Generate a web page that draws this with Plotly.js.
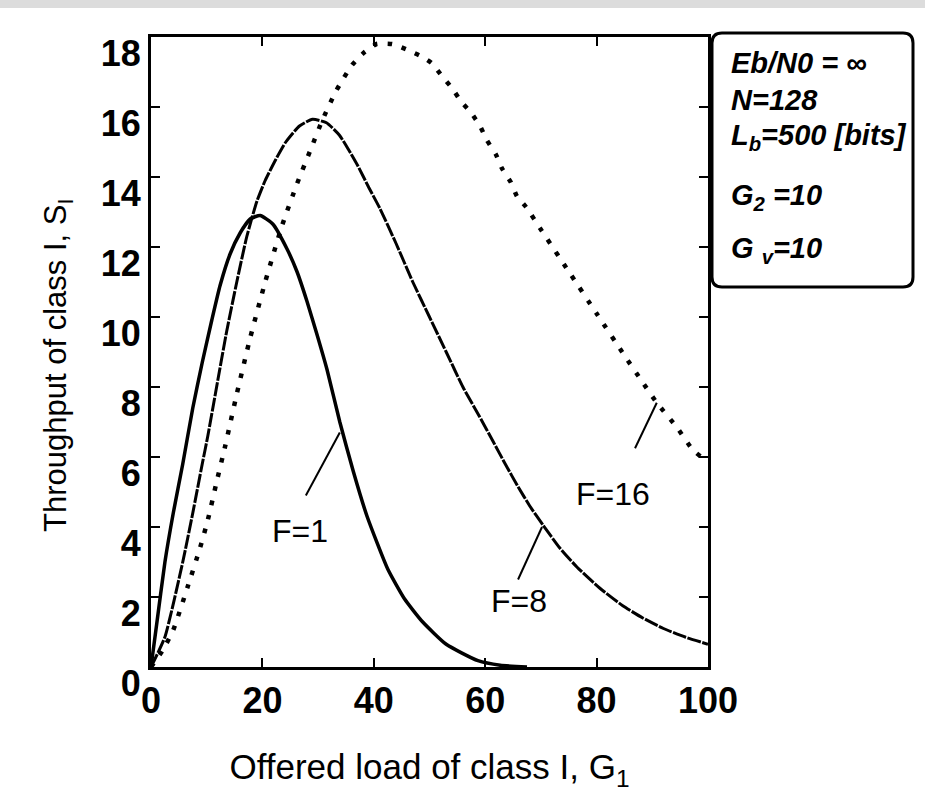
<!DOCTYPE html>
<html>
<head>
<meta charset="utf-8">
<script src="https://cdn.plot.ly/plotly-3.0.1.min.js"></script>
<style>html,body{margin:0;padding:0;background:#fff;}#chart{width:925px;height:796px;}</style>
</head>
<body>
<div id="chart"></div>
<script>
// Offered load G and throughput S for each curve
const G_F1 = [0, 1, 2.5, 4, 5.7, 7.5, 9.2, 10.9, 12.4, 14.2, 16, 17.8, 19.6, 21.9, 24.4, 26.2, 28, 29.8, 31.6, 33.9, 36.3, 38.8, 42.5, 45.5, 48.7, 53, 58.7, 62.7, 67.5];
const S_F1 = [0, 1.2, 3.0, 4.4, 5.8, 7.4, 8.7, 9.9, 10.9, 11.8, 12.4, 12.8, 12.9, 12.65, 11.95, 11.3, 10.45, 9.5, 8.5, 7.0, 5.6, 4.3, 2.8, 1.95, 1.3, 0.65, 0.18, 0.05, 0];

const G_F8 = [0, 2.5, 5.7, 7.5, 9.2, 10.2, 12, 13.6, 15.4, 17.2, 19, 20.5, 22.4, 24.2, 26.6, 29, 31.5, 33.8, 35.4, 37.2, 39.1, 41.1, 44, 47, 50, 53, 56, 59, 61.4, 63.6, 65.9, 68, 70.4, 73.4, 76.5, 80.6, 84.7, 88.3, 92, 96, 100];
const S_F8 = [0, 0.86, 3.0, 4.4, 5.8, 6.6, 8.2, 9.6, 11.0, 12.3, 13.3, 13.9, 14.5, 15.0, 15.45, 15.65, 15.55, 15.2, 14.8, 14.3, 13.7, 13.1, 12.1, 11.0, 10.0, 9.0, 8.0, 7.15, 6.45, 5.8, 5.15, 4.6, 4.05, 3.4, 2.85, 2.25, 1.75, 1.4, 1.1, 0.85, 0.65];

const G_F16 = [0, 2, 4, 6.6, 8.8, 10.2, 11.8, 13.3, 15.4, 17.8, 20.5, 23.5, 26.2, 28.7, 30.7, 33.2, 36.1, 38.2, 40.5, 43.3, 45.8, 48.5, 50.4, 52.4, 54, 55.7, 57.4, 59.1, 60.3, 61.9, 63, 64.6, 65.7, 67.3, 70, 75, 80, 85, 88.2, 90.8, 94.4, 97.3, 100];
const S_F16 = [0, 0.45, 1.06, 2.3, 3.4, 4.2, 5.3, 6.3, 7.8, 9.4, 11.0, 12.6, 13.8, 14.8, 15.6, 16.45, 17.2, 17.55, 17.8, 17.8, 17.65, 17.45, 17.25, 16.85, 16.55, 16.15, 15.85, 15.45, 15.05, 14.65, 14.25, 13.85, 13.45, 13.15, 12.5, 11.3, 10.1, 8.9, 8.15, 7.55, 6.85, 6.2, 5.85];

const curveLabels = ["F=1", "F=8", "F=16"];
const infoLines = ["Eb/N0 = ∞", "N=128", "L<sub>b</sub>=500 [bits]", "G<sub>2</sub> =10", "G <sub>v</sub>=10"];
const xTicks = [0, 20, 40, 60, 80, 100];
const yTicks = [0, 2, 4, 6, 8, 10, 12, 14, 16, 18];
const xTitle = 'Offered load of class I, G<sub>1</sub>';
const yTitle = 'Throughput of class I, S<sub>I</sub>';

// label positions (data coords) and leader lines
const labelPos = [[26.8, 3.9], [66.1, 1.9], [82.9, 4.95]];
const leaders = [[27.8, 4.9, 33.9, 6.7], [65.9, 2.5, 70.2, 4.0], [86.9, 6.25, 90.8, 7.55]];

const traces = [
  {x: G_F1, y: S_F1, mode: 'lines', line: {color: '#000', width: 3.5, shape: 'spline', smoothing: 0.5}},
  {x: G_F8, y: S_F8, mode: 'lines', line: {color: '#000', width: 3, shape: 'spline', smoothing: 0.5, dash: '14px,1.5px'}},
  {x: G_F16, y: S_F16, mode: 'lines', line: {color: '#000', width: 4.5, shape: 'spline', smoothing: 0.5, dash: '4.5px,10px'}}
];

const F = 'Liberation Sans, Arial, sans-serif';
const px = v => (v - 151) / 557, py = v => (667 - v) / 630;
const annotations = [];
curveLabels.forEach((t, i) => {
  annotations.push({x: labelPos[i][0], y: labelPos[i][1], xref: 'x', yref: 'y', text: t, showarrow: false,
    font: {family: F, size: 32, color: '#000'}});
});
const infoY = [63, 100, 137, 197, 250];
infoLines.forEach((t, i) => {
  annotations.push({x: px(729), y: py(infoY[i]), xref: 'paper', yref: 'paper', text: t,
    showarrow: false, xanchor: 'left', yanchor: 'middle',
    font: {family: F, size: 29, color: '#000', weight: 700, style: 'italic'}});
});
// y-axis title
annotations.push({x: px(58), y: py(366), xref: 'paper', yref: 'paper', text: yTitle, textangle: -90,
  showarrow: false, xanchor: 'center', yanchor: 'middle', font: {family: F, size: 31, color: '#000'}});

const shapes = [];
leaders.forEach(l => shapes.push({type: 'line', xref: 'x', yref: 'y', x0: l[0], y0: l[1], x1: l[2], y1: l[3], line: {color: '#000', width: 2}}));
// rounded info box
const bx0 = 712, bx1 = 913, by0 = 33, by1 = 287, r = 10;
shapes.push({type: 'path', xref: 'paper', yref: 'paper', line: {color: '#000', width: 3},
  path: `M ${px(bx0 + r)} ${py(by0)} L ${px(bx1 - r)} ${py(by0)} Q ${px(bx1)} ${py(by0)} ${px(bx1)} ${py(by0 + r)} L ${px(bx1)} ${py(by1 - r)} Q ${px(bx1)} ${py(by1)} ${px(bx1 - r)} ${py(by1)} L ${px(bx0 + r)} ${py(by1)} Q ${px(bx0)} ${py(by1)} ${px(bx0)} ${py(by1 - r)} L ${px(bx0)} ${py(by0 + r)} Q ${px(bx0)} ${py(by0)} ${px(bx0 + r)} ${py(by0)} Z`});
// grey band at the top of the page
shapes.push({type: 'rect', xref: 'paper', yref: 'paper', x0: px(0), x1: px(925), y0: py(8), y1: py(0), fillcolor: '#dcdcdc', line: {width: 0}, layer: 'below'});

const axisCommon = {
  showline: true, linewidth: 3, linecolor: '#000', mirror: 'ticks', ticks: 'inside', ticklen: 9, tickwidth: 2, tickcolor: '#000',
  showgrid: false, zeroline: false,
  tickfont: {family: F, size: 36, color: '#000', weight: 700}
};

const layout = {
  width: 925, height: 796,
  margin: {l: 151, r: 217, t: 37, b: 129},
  paper_bgcolor: '#fff', plot_bgcolor: '#fff',
  showlegend: false,
  xaxis: Object.assign({}, axisCommon, {range: [0, 100], tickvals: xTicks, ticklabelstandoff: 0, automargin: true,
    title: {text: xTitle, font: {family: F, size: 35, color: '#000'}, standoff: 35}}),
  yaxis: Object.assign({}, axisCommon, {range: [0, 18], tickvals: yTicks, ticklabelstandoff: 0, ticklabelshift: 16, automargin: false}),
  annotations: annotations,
  shapes: shapes
};

Plotly.newPlot('chart', traces, layout, {staticPlot: true, displayModeBar: false});
</script>
</body>
</html>
